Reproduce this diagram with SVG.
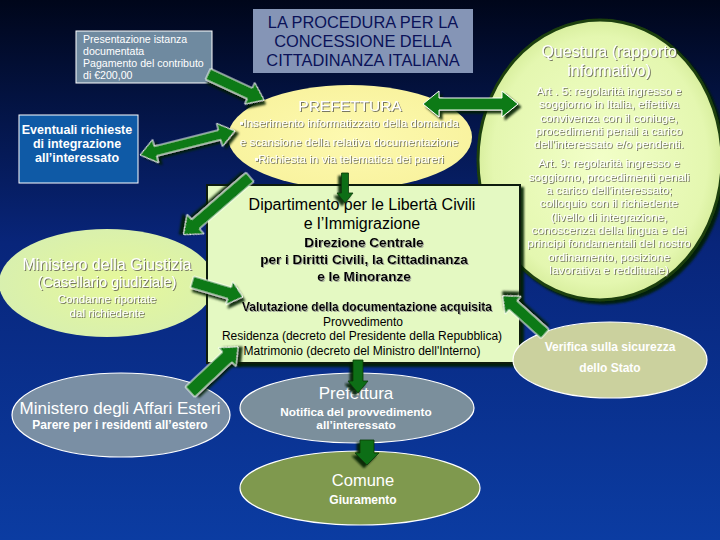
<svg xmlns="http://www.w3.org/2000/svg" width="720" height="540" viewBox="0 0 720 540">
<defs>
  <linearGradient id="bg" x1="0" y1="0" x2="0" y2="1">
    <stop offset="0" stop-color="#00061a"/>
    <stop offset="0.45" stop-color="#08257a"/>
    <stop offset="1" stop-color="#0b3ca2"/>
  </linearGradient>
  <radialGradient id="gQuest" cx="0.5" cy="0.5" r="0.55">
    <stop offset="0" stop-color="#f2ffc8"/>
    <stop offset="0.8" stop-color="#e4f7b0"/>
    <stop offset="1" stop-color="#cfe890"/>
  </radialGradient>
  <radialGradient id="gGiust" cx="0.55" cy="0.5" r="0.6">
    <stop offset="0" stop-color="#e6f89a"/>
    <stop offset="1" stop-color="#d7efb0"/>
  </radialGradient>
  <radialGradient id="gPref" cx="0.5" cy="0.5" r="0.6">
    <stop offset="0" stop-color="#fdf9b0"/>
    <stop offset="1" stop-color="#f8f29c"/>
  </radialGradient>
  <filter id="sh" x="-20%" y="-20%" width="140%" height="140%">
    <feDropShadow dx="3" dy="3" stdDeviation="1" flood-color="#001a00" flood-opacity="0.9"/>
  </filter>
  <filter id="tsh" x="-5%" y="-30%" width="110%" height="160%">
    <feDropShadow dx="1" dy="1" stdDeviation="0.4" flood-color="#6a6a5a" flood-opacity="0.9"/>
  </filter>
  <filter id="tshd" x="-5%" y="-30%" width="110%" height="160%">
    <feDropShadow dx="1" dy="1" stdDeviation="0.4" flood-color="#909090" flood-opacity="0.8"/>
  </filter>
</defs>
<style>
  text { font-family: "Liberation Sans", Arial, sans-serif; }
  .arrow { fill: #0b7a12; stroke: #ffffff; stroke-width: 1; filter: url(#sh); }
  .arrowd { fill: #0c6e14; stroke: #0a3a0a; stroke-width: 0.8; filter: url(#sh); }
  .w { fill: #ffffff; }
  .ws { fill: #ffffff; filter: url(#tsh); }
  .blk { fill: #000000; }
  .blks { fill: #000000; filter: url(#tshd); }
  .b { font-weight: bold; }
  .c { text-anchor: middle; }
  .ell { stroke: #ffffff; stroke-width: 1.2; }
</style>
<rect x="0" y="0" width="720" height="540" fill="url(#bg)"/>

<g id="questura">
  <ellipse cx="600" cy="160" rx="122" ry="140" fill="url(#gQuest)" stroke="#1c3f10" stroke-width="3" filter="url(#sh)"/>
  <g class="ws c" font-size="16">
    <text x="609" y="57">Questura (rapporto</text>
    <text x="609" y="76">informativo)</text>
  </g>
  <g class="ws c" font-size="11.8">
    <text x="609" y="95">Art . 5: regolarità ingresso e</text>
    <text x="609" y="108">soggiorno in Italia, effettiva</text>
    <text x="609" y="122">convivenza con il coniuge,</text>
    <text x="609" y="135">procedimenti penali a carico</text>
    <text x="609" y="148">dell'interessato e/o pendenti.</text>
    <text x="609" y="167">Art. 9: regolarità ingresso e</text>
    <text x="609" y="181">soggiorno, procedimenti penali</text>
    <text x="609" y="194">a carico dell'interessato;</text>
    <text x="609" y="207">colloquio con il richiedente</text>
    <text x="609" y="221">(livello di integrazione,</text>
    <text x="609" y="234">conoscenza della lingua e dei</text>
    <text x="609" y="247">principi fondamentali del nostro</text>
    <text x="609" y="261">ordinamento, posizione</text>
    <text x="609" y="274">lavorativa e reddituale)</text>
  </g>
</g>

<g id="prefettura">
  <ellipse cx="350" cy="137" rx="122" ry="52" fill="url(#gPref)"/>
  <text class="ws c" x="350" y="111" font-size="15.5">PREFETTURA</text>
  <g class="ws c" font-size="11.6">
    <text x="349" y="127">▪Inserimento informatizzato della domanda</text>
    <text x="349" y="146">e scansione della relativa documentazione</text>
    <text x="349" y="163">▪Richiesta in via telematica dei pareri</text>
  </g>
</g>

<g id="presentazione">
  <rect x="76" y="31" width="136" height="52" fill="#6f8aa0" stroke="#ffffff" stroke-width="1"/>
  <g class="w" font-size="10.6">
    <text x="83" y="43">Presentazione istanza</text>
    <text x="83" y="55">documentata</text>
    <text x="83" y="67">Pagamento del contributo</text>
    <text x="83" y="79">di €200,00</text>
  </g>
</g>

<g id="titolo">
  <rect x="253" y="9" width="220" height="64" fill="#8595b6"/>
  <g class="c" font-size="16.4" fill="#0a1258">
    <text x="363" y="28">LA PROCEDURA PER LA</text>
    <text x="363" y="47">CONCESSIONE DELLA</text>
    <text x="363" y="66">CITTADINANZA ITALIANA</text>
  </g>
</g>

<g id="eventuali">
  <rect x="19" y="115" width="119" height="68" fill="#0f5aa6" stroke="#ffffff" stroke-width="1"/>
  <g class="w b c" font-size="12.5">
    <text x="77" y="134">Eventuali  richieste</text>
    <text x="77" y="148">di integrazione</text>
    <text x="77" y="162">all’interessato</text>
  </g>
</g>

<g id="giustizia">
  <ellipse cx="107" cy="283" rx="108" ry="54" fill="url(#gGiust)"/>
  <g class="ws c">
    <text x="107" y="270" font-size="16">Ministero della Giustizia</text>
    <text x="107" y="287" font-size="14.5">(Casellario giudiziale)</text>
    <text x="107" y="303" font-size="11.5">Condanne riportate</text>
    <text x="107" y="317" font-size="11.5">dal richiedente</text>
  </g>
</g>

<g id="dipartimento">
  <rect x="207" y="185" width="313" height="178" fill="#e4f9c2" stroke="#0a1a0a" stroke-width="2" filter="url(#sh)"/>
  <g class="blk c" font-size="16">
    <text x="362" y="210">Dipartimento per le Libertà Civili</text>
    <text x="362" y="229">e l’Immigrazione</text>
  </g>
  <g class="blks b c" font-size="13.6">
    <text x="364" y="247">Direzione Centrale</text>
    <text x="364" y="264">per i Diritti Civili, la Cittadinanza</text>
    <text x="364" y="281">e le Minoranze</text>
  </g>
  <text class="blks b c" x="367" y="311" font-size="12">Valutazione della documentazione acquisita</text>
  <g class="blk c" font-size="12">
    <text x="363" y="326">Provvedimento</text>
    <text x="362" y="340">Residenza (decreto del Presidente della Repubblica)</text>
    <text x="362" y="355">Matrimonio (decreto del Ministro dell'Interno)</text>
  </g>
</g>

<g id="verifica">
  <ellipse class="ell" cx="610" cy="360" rx="97" ry="38" fill="#cbd19e"/>
  <g class="w b c" font-size="12">
    <text x="610" y="351">Verifica sulla sicurezza</text>
    <text x="610" y="372">dello Stato</text>
  </g>
</g>

<g id="mae">
  <ellipse class="ell" cx="121" cy="415" rx="109" ry="42" fill="#7a8fa4"/>
  <g class="w c">
    <text x="120" y="414" font-size="17">Ministero degli Affari Esteri</text>
    <text class="b" x="120" y="429" font-size="12">Parere per i residenti all’estero</text>
  </g>
</g>

<g id="prefettura2">
  <ellipse class="ell" cx="357" cy="408" rx="117" ry="35" fill="#7b8f9c"/>
  <g class="w c">
    <text x="356" y="399" font-size="17">Prefettura</text>
    <text class="b" x="356" y="416" font-size="11.8">Notifica del provvedimento</text>
    <text class="b" x="356" y="429" font-size="11.8">all’interessato</text>
  </g>
</g>

<g id="comune">
  <ellipse class="ell" cx="360" cy="488" rx="120" ry="37" fill="#7f994e"/>
  <g class="w c">
    <text x="363" y="486" font-size="16.5">Comune</text>
    <text class="b" x="363" y="504" font-size="12">Giuramento</text>
  </g>
</g>

<g id="connectors">
  <!-- presentazione -> prefettura -->
  <polygon class="arrow" transform="translate(208,74) rotate(24.9)" points="0,-6 46,-6 46,-12 62,0 46,12 46,6 0,6"/>
  <!-- eventuali <-> prefettura -->
  <polygon class="arrow" transform="translate(140,155) rotate(-14.2)" points="0,0 16,-12 16,-5 82,-5 82,-12 98,0 82,12 82,5 16,5 16,12"/>
  <!-- prefettura <-> questura -->
  <polygon class="arrow" transform="translate(423,104) rotate(0)" points="0,0 16,-13 16,-6 79,-6 79,-13 95,0 79,13 79,6 16,6 16,13"/>
  <!-- prefettura -> dipartimento -->
  <polygon class="arrowd" transform="translate(345,173) rotate(90)" points="0,-3.5 20,-3.5 20,-8 30,0 20,8 20,3.5 0,3.5"/>
  <!-- prefettura -> giustizia -->
  <polygon class="arrow" transform="translate(250,177) rotate(139.1)" points="0,-6 72,-6 72,-13 88,0 72,13 72,6 0,6"/>
  <!-- giustizia -> dipartimento -->
  <polygon class="arrow" transform="translate(192,282) rotate(16.4)" points="0,-6 39,-6 39,-12 53,0 39,12 39,6 0,6"/>
  <!-- mae -> dipartimento -->
  <polygon class="arrow" transform="translate(190,392) rotate(-43.2)" points="0,-7 51,-7 51,-13 66,0 51,13 51,7 0,7"/>
  <!-- verifica -> dipartimento -->
  <polygon class="arrow" transform="translate(545,334) rotate(-137.9)" points="0,-6 43,-6 43,-12 57,0 43,12 43,6 0,6"/>
  <!-- dipartimento -> prefettura -->
  <polygon class="arrowd" transform="translate(358,360) rotate(90)" points="0,-5 21,-5 21,-10 33,0 21,10 21,5 0,5"/>
  <!-- prefettura -> comune -->
  <polygon class="arrowd" transform="translate(367,440) rotate(90)" points="0,-7 13,-7 13,-12 25,0 13,12 13,7 0,7"/>
</g>
</svg>
